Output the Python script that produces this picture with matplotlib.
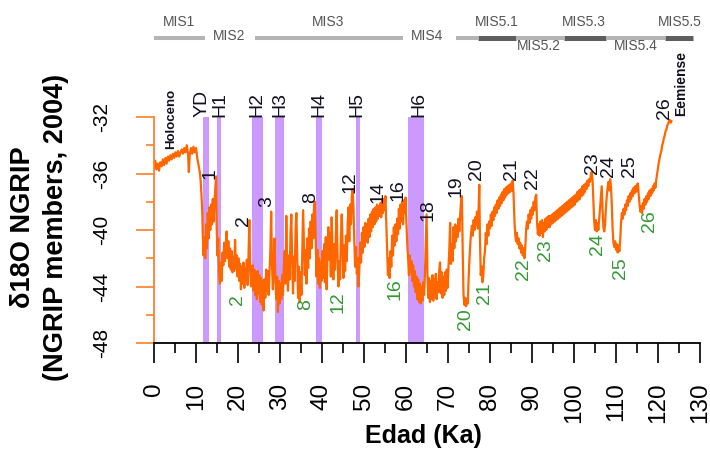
import matplotlib
matplotlib.use("Agg")
import matplotlib.pyplot as plt
import matplotlib.transforms as mtransforms
from matplotlib.ticker import MultipleLocator

plt.rcParams['font.family'] = ['Liberation Sans', 'DejaVu Sans']
plt.rcParams['axes.unicode_minus'] = False

CURVE = '#ff6600'
AXIS_ORANGE = '#ff7f2a'
PURPLE = '#cc99ff'
GREEN = '#339933'
DARK = '#111122'

# NGRIP d18O record, age in ka
age_ka = [
    0.0, 0.3, 0.6, 0.9, 1.2, 1.5, 1.8, 2.1, 2.4, 2.7, 3.0, 3.3, 3.6, 3.9, 4.2, 4.5, 4.8, 5.1, 5.4, 5.7,
    6.0, 6.3, 6.6, 6.9, 7.2, 7.5, 7.8, 8.1, 8.3, 8.5, 8.8, 9.1, 9.4, 9.7, 10.0, 10.3, 10.6, 10.9, 11.1, 11.3, 11.5,
    11.6, 11.8, 12.0, 12.2, 12.4, 12.6, 12.8, 13.0, 13.2, 13.4, 13.6, 13.8, 14.0, 14.2, 14.4, 14.6, 14.8, 14.9,
    15.1, 15.3, 15.5, 15.7, 15.9, 16.1, 16.3,
    16.5, 16.7, 16.9, 17.1, 17.3, 17.5, 17.7, 17.9, 18.1, 18.3, 18.5, 18.7, 18.9, 19.1, 19.3, 19.5, 19.7, 19.9,
    20.1, 20.3, 20.5, 20.7, 20.9, 21.1, 21.3, 21.5, 21.7, 21.9, 22.1, 22.3, 22.5, 22.7, 22.9, 23.1, 23.3,
    23.5, 23.7, 23.9, 24.1, 24.3, 24.5, 24.7, 24.9, 25.1, 25.3, 25.5, 25.7, 25.9, 26.1, 26.3, 26.5, 26.7, 26.9,
    27.1, 27.3, 27.5, 27.7, 27.9, 28.1, 28.3, 28.5, 28.7, 28.9, 29.1, 29.3, 29.5, 29.7, 29.9, 30.1, 30.3, 30.5,
    30.7, 30.9,
    31.1, 31.3, 31.5, 31.7, 31.9, 32.1, 32.3, 32.5, 32.7, 32.9, 33.1, 33.3, 33.5, 33.7, 33.9, 34.1, 34.3, 34.5,
    34.7, 34.9, 35.1, 35.3, 35.5, 35.7, 35.9, 36.1, 36.3, 36.5, 36.7, 36.9, 37.1, 37.3, 37.5, 37.7, 37.9, 38.1,
    38.3, 38.5,
    38.7, 38.9, 39.1, 39.3, 39.5, 39.7, 39.9, 40.1, 40.3, 40.5, 40.7, 40.9, 41.1, 41.3, 41.5, 41.7, 41.9, 42.1,
    42.3, 42.5, 42.7, 42.9, 43.1, 43.3, 43.5, 43.7, 43.9, 44.1, 44.3, 44.5, 44.7, 44.9, 45.1, 45.3, 45.5, 45.7,
    45.9, 46.1, 46.3, 46.5, 46.7, 46.9, 47.1, 47.3, 47.5, 47.7, 47.9, 48.1, 48.3, 48.5, 48.7, 48.9,
    49.1, 49.3, 49.5, 49.7, 49.9, 50.1, 50.3, 50.5, 50.7, 50.9, 51.1, 51.3, 51.5, 51.7, 51.9, 52.1, 52.3, 52.5,
    52.7, 52.9, 53.1, 53.3, 53.5, 53.7, 53.9, 54.1, 54.3, 54.5, 54.7, 54.9, 55.1, 55.3, 55.5, 55.7, 55.9, 56.1,
    56.3, 56.5, 56.7, 56.9, 57.1, 57.3, 57.5, 57.7, 57.9, 58.1, 58.3, 58.5, 58.7, 58.9, 59.1, 59.3, 59.5, 59.7,
    59.9, 60.1, 60.3,
    60.5, 60.7, 60.9, 61.1, 61.3, 61.5, 61.7, 61.9, 62.1, 62.3, 62.5, 62.7, 62.9, 63.1, 63.3, 63.5, 63.7, 63.9,
    64.1, 64.3, 64.5, 64.7, 64.9, 65.1, 65.3, 65.5, 65.7, 65.9, 66.1, 66.3, 66.5, 66.7, 66.9, 67.1, 67.3, 67.5,
    67.7, 67.9, 68.1, 68.3, 68.5, 68.7, 68.9, 69.1, 69.3, 69.5, 69.7, 69.9, 70.1, 70.3, 70.5, 70.7,
    70.9, 71.1, 71.3, 71.5, 71.7, 71.9, 72.1, 72.3, 72.5, 72.7, 72.9, 73.1, 73.3, 73.5, 73.7, 73.9, 74.1, 74.3,
    74.5, 74.7, 74.9, 75.1, 75.3, 75.5, 75.7, 75.9, 76.1, 76.3, 76.5, 76.7, 76.9, 77.1, 77.3, 77.45, 77.6, 77.8,
    78.0, 78.2, 78.4, 78.6,
    78.8, 79.0, 79.2, 79.4, 79.6, 79.8, 80.0, 80.2, 80.4, 80.6, 80.8, 81.0, 81.2, 81.4, 81.6, 81.8, 82.0, 82.2,
    82.4, 82.6, 82.8, 83.0, 83.2, 83.4, 83.6, 83.8, 84.0, 84.2, 84.4, 84.6, 84.8, 85.0, 85.2, 85.4, 85.6, 85.8,
    86.0, 86.2, 86.4, 86.6, 86.8, 87.0, 87.2, 87.4, 87.6, 87.8, 88.0, 88.2, 88.4, 88.6, 88.8, 89.0, 89.2, 89.4,
    89.6, 89.8, 90.0, 90.2, 90.4, 90.6, 90.8, 91.0, 91.2, 91.4, 91.6, 91.8, 92.0, 92.2, 92.4, 92.6, 92.8, 93.0,
    93.2, 93.4, 93.6, 93.8, 94.0,
    94.2, 94.4, 94.6, 94.8, 95.0, 95.2, 95.4, 95.6, 95.8, 96.0, 96.2, 96.4, 96.6, 96.8, 97.0, 97.2, 97.4, 97.6,
    97.8, 98.0, 98.2, 98.4, 98.6, 98.8, 99.0, 99.2, 99.4, 99.6, 99.8, 100.0, 100.2, 100.4, 100.6, 100.8, 101.0,
    101.2, 101.4, 101.6, 101.8, 102.0, 102.2, 102.4, 102.6, 102.8, 103.0, 103.2, 103.4, 103.6, 103.8, 104.0,
    104.2,
    104.4, 104.6, 104.8, 105.0, 105.2, 105.4, 105.6, 105.8, 106.0, 106.2, 106.4, 106.6, 106.8, 107.0, 107.2,
    107.4, 107.6, 107.8, 108.0, 108.2, 108.4, 108.6, 108.8, 109.0, 109.2, 109.4, 109.6, 109.8, 110.0, 110.2,
    110.4, 110.6, 110.8, 111.0, 111.2, 111.4, 111.6, 111.8, 112.0, 112.2, 112.4, 112.6, 112.8, 113.0, 113.2,
    113.4, 113.6, 113.8, 114.0, 114.2, 114.4, 114.6, 114.8, 115.0, 115.2, 115.4, 115.6, 115.8, 116.0, 116.2,
    116.4, 116.6, 116.8, 117.0, 117.2, 117.4, 117.6, 117.8, 118.0, 118.2, 118.4, 118.6, 118.8, 119.0, 119.2,
    119.4, 119.6, 119.8, 120.0, 120.2, 120.4, 120.6, 120.8, 121.0, 121.2, 121.4, 121.6, 121.8, 122.0, 122.2,
    122.4, 122.6, 122.8, 123.0, 123.2,
]
d18o = [
    -35.6, -35.1, -35.7, -35.3, -35.8, -35.2, -35.5, -35.0, -35.4, -34.9, -35.3, -34.8, -35.1, -34.7, -35.0,
    -34.6, -34.9, -34.5, -34.8, -34.4, -34.8, -34.5, -34.3, -34.6, -34.2, -34.5, -34.0, -34.6, -35.9, -34.7,
    -34.2, -34.6, -34.1, -34.5, -34.2, -34.9, -35.4, -35.9, -36.5, -37.5, -38.8,
    -40.2, -41.8, -40.5, -42.0, -39.6, -41.3, -38.8, -40.6, -38.4, -40.0, -38.2, -39.6, -37.8, -39.4, -38.0,
    -37.0, -36.2, -39.5,
    -41.8, -40.6, -43.2, -43.8, -42.3, -43.6, -41.6,
    -42.5, -40.9, -42.2, -41.0, -40.1, -42.0, -40.8, -42.6, -41.3, -42.8, -41.5, -43.0, -41.9, -42.9, -40.7,
    -42.7, -41.8, -43.3, -42.0, -43.6, -42.4, -44.2, -42.6, -43.8, -42.3, -44.1, -42.7, -43.5, -42.1, -43.9,
    -41.8, -39.3, -42.6, -44.0, -42.9,
    -42.5, -44.3, -42.8, -44.6, -43.0, -44.9, -42.9, -44.5, -43.2, -45.1, -43.4, -45.3, -43.6, -45.7, -43.5,
    -44.8, -42.8, -44.3, -42.9, -44.6, -43.1, -41.5, -38.7, -42.5, -44.2, -42.3, -40.6, -43.5, -44.9, -43.3,
    -45.8, -43.6, -45.2, -43.8, -44.9, -43.2, -44.6, -42.7,
    -41.5, -43.8, -39.0, -42.6, -44.3, -41.8, -43.5, -40.2, -38.9, -42.3, -44.5, -41.9, -43.6, -40.0, -38.8,
    -42.0, -44.8, -42.6, -45.1, -43.0, -44.6, -41.5, -38.6, -40.9, -43.2, -41.4, -43.8, -40.6, -42.7, -39.9,
    -42.0, -39.4, -41.3, -38.9, -40.6, -38.3, -38.0, -40.8,
    -43.3, -41.4, -43.8, -42.0, -44.1, -42.3, -43.6, -41.5, -43.4, -41.0, -43.7, -40.5, -44.2, -41.8, -39.8,
    -42.1, -40.2, -43.3, -39.1, -41.6, -43.5, -41.0, -42.8, -40.3, -38.6, -41.9, -44.0, -42.2, -43.5, -40.6,
    -38.9, -41.3, -43.4, -41.1, -42.9, -40.4, -42.2, -39.7, -38.4, -40.8, -38.2, -39.6, -37.6, -37.1, -38.5,
    -40.9, -42.6, -41.2, -43.1, -42.0, -44.0, -42.7,
    -40.9, -42.3, -40.2, -41.6, -39.8, -41.2, -39.5, -40.8, -39.6, -40.9, -39.2, -40.5, -38.9, -40.1, -38.7,
    -39.8, -38.5, -39.6, -38.4, -39.4, -38.2, -39.2, -38.3, -39.0, -38.1, -39.1, -37.9, -38.8, -37.8, -38.6,
    -37.6, -39.4, -41.2, -43.2, -42.0, -43.4, -41.5, -42.6, -40.4, -41.8, -39.8, -41.1, -39.6, -40.8, -39.2,
    -40.3, -38.5, -39.9, -38.2, -39.4, -38.0, -39.6, -37.9, -38.8, -37.7, -39.5, -41.0,
    -42.0, -43.2, -41.8, -43.0, -42.2, -43.6, -42.5, -44.0, -42.9, -44.4, -43.3, -44.9, -43.5, -45.1, -43.8,
    -45.2, -44.0, -45.0, -43.7, -44.6, -43.2, -41.0, -38.9, -43.0, -44.8, -43.4, -45.1, -43.6, -44.9, -43.2,
    -45.0, -43.5, -44.7, -43.1, -44.9, -43.7, -44.4, -42.9, -42.3, -44.5, -43.0, -44.8, -43.3, -44.6, -43.0,
    -44.3, -42.8, -44.1, -42.7, -41.5, -39.5, -42.4,
    -41.0, -42.2, -39.8, -41.3, -39.6, -40.8, -39.7, -40.5, -39.2, -40.1, -38.9, -38.0, -37.6, -41.5, -44.6,
    -45.3, -44.8, -45.4, -44.9, -45.2, -43.5, -42.1, -41.0, -40.2, -39.7, -40.4, -39.3, -40.0, -39.1, -39.6,
    -38.7, -39.9, -38.4, -36.8, -40.5, -43.2, -42.6, -43.7, -43.3, -42.0,
    -41.5, -40.2, -41.0, -39.6, -40.4, -39.4, -39.9, -38.9, -39.7, -38.7, -39.3, -38.4, -39.0, -38.2, -38.8,
    -37.9, -38.5, -37.7, -38.3, -37.5, -38.1, -37.3, -37.9, -37.1, -37.7, -37.0, -37.5, -36.9, -37.4, -36.8,
    -37.3, -36.7, -37.2, -36.5, -37.4, -39.2, -40.3, -40.8, -40.2, -41.0, -40.6, -41.3, -40.9, -41.6, -41.1,
    -41.8, -41.3, -42.0, -41.2, -40.0, -39.4, -39.9, -38.9, -39.5, -38.6, -39.2, -38.4, -38.9, -38.0, -38.6,
    -37.7, -37.5, -39.5, -40.3, -39.6, -40.4, -39.4, -40.2, -39.3, -40.5, -39.5, -40.1, -39.2, -40.0, -39.1,
    -39.8, -39.0,
    -39.8, -39.0, -39.6, -38.9, -39.5, -38.8, -39.4, -38.7, -39.3, -38.6, -39.2, -38.5, -39.1, -38.4, -39.0,
    -38.3, -38.9, -38.2, -38.8, -38.1, -38.7, -38.0, -38.6, -37.9, -38.5, -37.8, -38.4, -37.7, -38.3, -37.6,
    -38.2, -37.5, -38.0, -37.3, -37.9, -37.2, -37.8, -37.1, -37.6, -36.9, -37.5, -36.8, -37.3, -36.7, -37.1,
    -36.5, -36.9, -36.4, -36.6, -36.1, -35.9,
    -36.4, -37.8, -39.4, -40.0, -39.3, -40.1, -39.5, -40.0, -39.2, -38.4, -37.5, -36.9, -38.6, -39.8, -40.1,
    -39.6, -38.4, -37.6, -37.0, -36.6, -37.2, -36.4, -36.9, -38.2, -40.0, -40.9, -41.2, -40.8, -41.4, -41.0,
    -41.6, -41.1, -41.5, -40.7, -39.5, -38.8, -39.2, -38.5, -38.9, -38.2, -38.6, -37.9, -38.3, -37.6, -38.0,
    -37.4, -37.8, -37.2, -37.6, -37.0, -37.4, -36.9, -37.3, -36.8, -36.7, -37.5, -38.2, -38.7, -38.3, -38.8,
    -38.1, -38.5, -37.8, -38.2, -37.6, -38.0, -37.4, -37.8, -37.2, -37.6, -37.1, -37.4, -36.9, -37.2, -36.7,
    -37.0, -36.4, -36.0, -35.6, -35.2, -34.9, -34.6, -34.4, -34.0, -33.8, -33.5, -33.3, -33.0, -32.9, -32.6,
    -32.5, -32.3, -32.2, -32.4, -32.3,
]

# Heinrich events and Younger Dryas
event_names = ['YD', 'H1', 'H2', 'H3', 'H4', 'H5', 'H6']
event_start = [11.6, 15.0, 23.4, 28.7, 38.6, 48.0, 60.4]
event_end = [13.1, 16.0, 25.9, 31.0, 40.1, 49.1, 64.3]
event_label_x = [11.4, 15.7, 24.4, 30.0, 39.2, 48.2, 63.0]

# interstadial (warm) numbers
warm_labels = ['1', '2', '3', '8', '12', '14', '16', '18', '19', '20', '21', '22', '23', '24', '25', '26']
warm_x = [13.3, 21.2, 26.9, 37.4, 46.7, 53.3, 58.1, 65.2, 71.9, 76.7, 85.2, 90.2, 104.4, 108.1, 113.3, 121.6]
warm_y = [-36.0, -39.3, -38.0, -37.7, -36.6, -37.3, -37.2, -38.6, -36.9, -35.7, -35.7, -36.3, -35.3, -35.5,
          -35.5, -31.4]

# stadial (cold) numbers
cold_labels = ['2', '8', '12', '16', '20', '21', '22', '23', '24', '25', '26']
cold_x = [19.8, 36.0, 43.9, 57.4, 74.1, 78.8, 87.9, 93.1, 105.5, 111.0, 117.9]
cold_y = [-44.9, -45.3, -45.1, -44.2, -46.3, -44.5, -42.8, -41.4, -41.0, -42.7, -39.4]

# marine isotope stages bar
mis_bar_start = [0.0, 24.0, 71.8, 77.1, 86.1, 97.5, 107.5, 121.6]
mis_bar_end = [12.1, 59.4, 77.1, 86.1, 97.5, 107.5, 121.6, 128.3]
mis_bar_dark = [False, False, False, True, False, True, False, True]
mis_names = ['MIS1', 'MIS2', 'MIS3', 'MIS4', 'MIS5.1', 'MIS5.2', 'MIS5.3', 'MIS5.4', 'MIS5.5']
mis_x = [6.0, 17.9, 41.4, 65.0, 81.5, 91.7, 102.3, 114.8, 125.2]
mis_row = [0, 1, 0, 1, 0, 2, 0, 2, 0]

y_ticks = [-48, -44, -40, -36, -32]

fig = plt.figure(figsize=(7.1, 4.51), dpi=100)
ax = fig.add_axes([154 / 710, 108 / 451, 546 / 710, 226 / 451])

for s, e in zip(event_start, event_end):
    ax.axvspan(s, e, color=PURPLE, lw=0, zorder=1)
ax.plot(age_ka, d18o, color=CURVE, lw=1.6, zorder=2)

ax.set_xlim(0, 130)
ax.set_ylim(-48, -32)
ax.spines['top'].set_visible(False)
ax.spines['right'].set_visible(False)
ax.spines['left'].set_color(AXIS_ORANGE)
ax.spines['left'].set_linewidth(1.3)
ax.spines['bottom'].set_color('black')
ax.spines['bottom'].set_linewidth(1.3)

ax.xaxis.set_major_locator(MultipleLocator(10))
ax.xaxis.set_minor_locator(MultipleLocator(5))
ax.set_yticks(y_ticks)
ax.yaxis.set_minor_locator(MultipleLocator(2))
ax.tick_params(axis='x', which='major', length=14.5, width=1.2, color='black',
               pad=14, labelsize=17.5, labelrotation=90)
ax.tick_params(axis='x', which='minor', length=7, width=1.2, color='black')
ax.tick_params(axis='y', which='major', length=13, width=1.2, color=AXIS_ORANGE,
               labelleft=False)
ax.tick_params(axis='y', which='minor', length=6, width=1.2, color=AXIS_ORANGE)

# vertical y tick labels, placed in figure x / data y
ylab_tr = mtransforms.blended_transform_factory(fig.transFigure, ax.transData)
for v in y_ticks:
    ax.text(102 / 710, v, str(v), transform=ylab_tr, rotation=90, ha='center', va='center',
            fontsize=15, clip_on=False)

# event labels above the bars
for name, x in zip(event_names, event_label_x):
    ax.text(x, -32, name, rotation=90, ha='center', va='bottom', fontsize=14,
            color=DARK, clip_on=False)

for t, x, y in zip(warm_labels, warm_x, warm_y):
    ax.text(x, y, t, rotation=90, ha='center', va='center', fontsize=14, color=DARK, clip_on=False)
for t, x, y in zip(cold_labels, cold_x, cold_y):
    ax.text(x, y, t, rotation=90, ha='center', va='center', fontsize=14, color=GREEN)

ax.text(4.0, -34.3, 'Holoceno', rotation=90, ha='center', va='bottom', fontsize=9.5,
        fontweight='bold', color=DARK, clip_on=False)
ax.text(125.6, -29.6, 'Eemiense', rotation=90, ha='center', va='center', fontsize=10,
        fontweight='bold', color=DARK, clip_on=False)

# MIS stage bar along the top
for s, e, dark in zip(mis_bar_start, mis_bar_end, mis_bar_dark):
    ax.plot([s, e], [-26.4, -26.4], color='#5e5e5e' if dark else '#b4b4b4',
            lw=3.6 if dark else 2.9, solid_capstyle='butt', clip_on=False)
row_y = [-25.3, -26.3, -27.0]
for name, x, r in zip(mis_names, mis_x, mis_row):
    ax.text(x, row_y[r], name, ha='center', va='center', fontsize=10, color='#555555',
            clip_on=False)

fig.text(23 / 710, 1 - 227 / 451, 'δ18O NGRIP', rotation=90, ha='center', va='center',
         fontsize=19.5, fontweight='bold')
fig.text(56 / 710, 1 - 227 / 451, '(NGRIP members, 2004)', rotation=90, ha='center',
         va='center', fontsize=19.5, fontweight='bold')
fig.text(423 / 710, 1 - 436 / 451, 'Edad (Ka)', ha='center', va='center', fontsize=18,
         fontweight='bold')

fig.savefig('out.png', dpi=100)
